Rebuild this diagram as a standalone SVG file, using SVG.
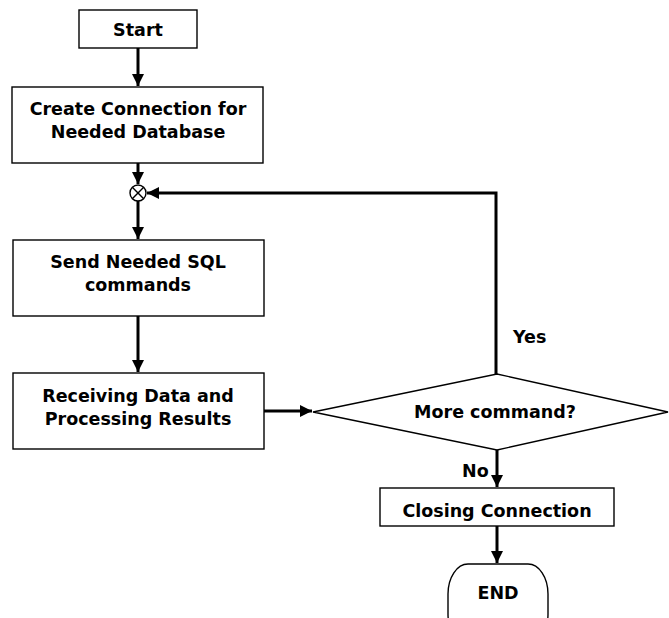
<svg xmlns="http://www.w3.org/2000/svg" width="669" height="618" viewBox="0 0 669 618">
<defs>
<style>
.box{fill:#fff;stroke:#000;stroke-width:1.4}
.t{font-family:"DejaVu Sans",Verdana,sans-serif;font-weight:bold;font-size:17.5px;fill:#000;text-anchor:middle}
.lbl{font-family:"DejaVu Sans",Verdana,sans-serif;font-weight:bold;font-size:17.5px;fill:#000}
.c{fill:none;stroke:#000;stroke-width:3}
</style>
<marker id="ah" viewBox="0 0 10 10" refX="10" refY="5" markerWidth="4" markerHeight="4" orient="auto" markerUnits="strokeWidth">
<path d="M0,0 L10,5 L0,10 z" fill="#000"/>
</marker>
</defs>
<rect width="669" height="618" fill="#fff"/>
<g id="connectors">
<line class="c" x1="138" y1="48" x2="138" y2="86" marker-end="url(#ah)"/>
<line class="c" x1="138" y1="163" x2="138" y2="184" marker-end="url(#ah)"/>
<line class="c" x1="138" y1="201" x2="138" y2="239" marker-end="url(#ah)"/>
<line class="c" x1="138" y1="316" x2="138" y2="372" marker-end="url(#ah)"/>
<line class="c" x1="264" y1="411" x2="312" y2="411" marker-end="url(#ah)"/>
<polyline class="c" points="496,374 496,193 147,193" marker-end="url(#ah)"/>
<line class="c" x1="497" y1="450" x2="497" y2="487" marker-end="url(#ah)"/>
<line class="c" x1="497" y1="526" x2="497" y2="563" marker-end="url(#ah)"/>
</g>
<g id="start">
<rect class="box" x="79" y="10" width="118" height="38"/>
<text class="t" x="138" y="36">Start</text>
</g>
<g id="create">
<rect class="box" x="12" y="87" width="251" height="76"/>
<text class="t" x="138" y="115">Create Connection for</text>
<text class="t" x="138" y="138">Needed Database</text>
</g>
<g id="junction">
<circle cx="138" cy="193" r="8" fill="#fff" stroke="#000" stroke-width="1.4"/>
<line x1="132.3" y1="187.3" x2="143.7" y2="198.7" stroke="#000" stroke-width="1.4"/>
<line x1="143.7" y1="187.3" x2="132.3" y2="198.7" stroke="#000" stroke-width="1.4"/>
</g>
<g id="send">
<rect class="box" x="13" y="240" width="251" height="76"/>
<text class="t" x="138" y="268">Send Needed SQL</text>
<text class="t" x="138" y="291">commands</text>
</g>
<g id="receive">
<rect class="box" x="13" y="373" width="251" height="76"/>
<text class="t" x="138" y="402">Receiving Data and</text>
<text class="t" x="138" y="425">Processing Results</text>
</g>
<g id="decision">
<polygon class="box" points="313,412 497,374 668,412 497,450"/>
<text class="t" x="495" y="418">More command?</text>
</g>
<g id="labels">
<text class="lbl" x="513" y="343">Yes</text>
<text class="lbl" x="462" y="477">No</text>
</g>
<g id="closing">
<rect class="box" x="380" y="488" width="234" height="38"/>
<text class="t" x="497" y="517">Closing Connection</text>
</g>
<g id="end">
<rect class="box" x="448" y="564" width="100" height="80" rx="20" ry="30"/>
<text class="t" x="498" y="599">END</text>
</g>
</svg>
